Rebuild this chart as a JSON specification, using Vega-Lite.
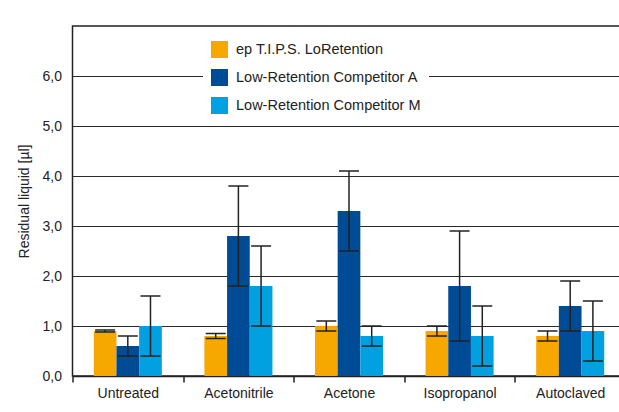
{
  "$schema": "https://vega.github.io/schema/vega-lite/v6.json",
  "width": 553,
  "height": 350,
  "autosize": {"type": "none"},
  "padding": {"left": 72.5, "top": 26, "right": 0, "bottom": 37},
  "background": "white",
  "config": {
    "font": "Liberation Sans",
    "view": {"stroke": "#222", "strokeWidth": 1.5},
    "axis": {"labelColor": "#222", "titleColor": "#222", "labelFontSize": 14, "titleFontSize": 14, "titleFontWeight": "normal"}
  },
  "data": {
    "values": [
      {"cond": "Untreated", "series": "ep T.I.P.S. LoRetention", "value": 0.9, "lo": 0.88, "hi": 0.92},
      {"cond": "Untreated", "series": "Low-Retention Competitor A", "value": 0.6, "lo": 0.4, "hi": 0.8},
      {"cond": "Untreated", "series": "Low-Retention Competitor M", "value": 1.0, "lo": 0.4, "hi": 1.6},
      {"cond": "Acetonitrile", "series": "ep T.I.P.S. LoRetention", "value": 0.8, "lo": 0.75, "hi": 0.85},
      {"cond": "Acetonitrile", "series": "Low-Retention Competitor A", "value": 2.8, "lo": 1.8, "hi": 3.8},
      {"cond": "Acetonitrile", "series": "Low-Retention Competitor M", "value": 1.8, "lo": 1.0, "hi": 2.6},
      {"cond": "Acetone", "series": "ep T.I.P.S. LoRetention", "value": 1.0, "lo": 0.9, "hi": 1.1},
      {"cond": "Acetone", "series": "Low-Retention Competitor A", "value": 3.3, "lo": 2.5, "hi": 4.1},
      {"cond": "Acetone", "series": "Low-Retention Competitor M", "value": 0.8, "lo": 0.6, "hi": 1.0},
      {"cond": "Isopropanol", "series": "ep T.I.P.S. LoRetention", "value": 0.9, "lo": 0.8, "hi": 1.0},
      {"cond": "Isopropanol", "series": "Low-Retention Competitor A", "value": 1.8, "lo": 0.7, "hi": 2.9},
      {"cond": "Isopropanol", "series": "Low-Retention Competitor M", "value": 0.8, "lo": 0.2, "hi": 1.4},
      {"cond": "Autoclaved", "series": "ep T.I.P.S. LoRetention", "value": 0.8, "lo": 0.7, "hi": 0.9},
      {"cond": "Autoclaved", "series": "Low-Retention Competitor A", "value": 1.4, "lo": 0.9, "hi": 1.9},
      {"cond": "Autoclaved", "series": "Low-Retention Competitor M", "value": 0.9, "lo": 0.3, "hi": 1.5}
    ]
  },
  "encoding": {
    "x": {
      "field": "cond", "type": "nominal",
      "sort": ["Untreated", "Acetonitrile", "Acetone", "Isopropanol", "Autoclaved"],
      "scale": {"paddingInner": 0, "paddingOuter": 0},
      "axis": {"title": null, "labelAngle": 0, "tickBand": "extent", "tickSize": 6, "tickColor": "#222", "tickWidth": 1.5, "domainColor": "#222", "domainWidth": 1.5, "labelPadding": 4}
    },
    "xOffset": {
      "field": "series", "type": "nominal",
      "sort": ["ep T.I.P.S. LoRetention", "Low-Retention Competitor A", "Low-Retention Competitor M"],
      "scale": {"paddingInner": 0, "paddingOuter": 0.9375}
    }
  },
  "layer": [
    {
      "mark": {"type": "bar"},
      "encoding": {
        "y": {
          "field": "value", "type": "quantitative",
          "scale": {"domain": [0, 7], "nice": false},
          "axis": {"title": "Residual liquid [µl]", "values": [0, 1, 2, 3, 4, 5, 6], "labelExpr": "replace(format(datum.value, '.1f'), '.', ',')", "ticks": false, "domain": false, "labelPadding": 11, "titlePadding": 11, "gridColor": "#2a2a2a", "gridWidth": 1.2, "gridOpacity": 1}
        },
        "color": {
          "field": "series", "type": "nominal",
          "scale": {"domain": ["ep T.I.P.S. LoRetention", "Low-Retention Competitor A", "Low-Retention Competitor M"], "range": ["#F6A800", "#004B96", "#00A0E1"]},
          "legend": {
            "title": null, "orient": "none", "legendX": 130.5, "legendY": 7,
            "fillColor": "white", "padding": 8, "symbolType": "square", "symbolSize": 289,
            "symbolStrokeWidth": 0, "symbolOpacity": 1, "labelFontSize": 14.5, "labelColor": "#222",
            "labelOffset": 8, "rowPadding": 11, "labelLimit": 400
          }
        }
      }
    },
    {
      "mark": {"type": "rule", "color": "#222", "strokeWidth": 1.5},
      "encoding": {"y": {"field": "lo", "type": "quantitative"}, "y2": {"field": "hi"}}
    },
    {
      "mark": {"type": "tick", "color": "#222", "thickness": 1.5, "size": 20, "orient": "horizontal", "opacity": 1},
      "encoding": {"y": {"field": "lo", "type": "quantitative"}}
    },
    {
      "mark": {"type": "tick", "color": "#222", "thickness": 1.5, "size": 20, "orient": "horizontal", "opacity": 1},
      "encoding": {"y": {"field": "hi", "type": "quantitative"}}
    }
  ]
}
